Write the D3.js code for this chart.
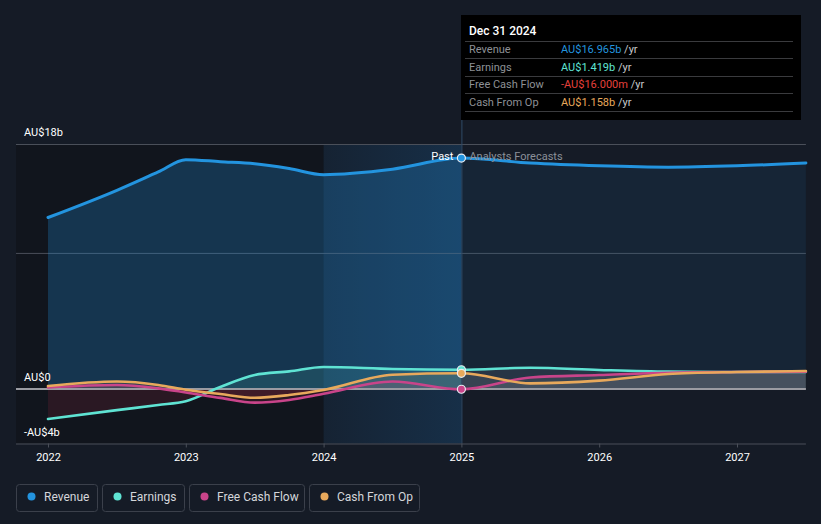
<!DOCTYPE html>
<html><head><meta charset="utf-8">
<script src="https://cdn.jsdelivr.net/npm/d3@7"></script>
<style>
html,body{margin:0;padding:0;background:#151b26;}
svg{display:block;font-family:Roboto,"Noto Sans",sans-serif;}
</style></head>
<body>
<svg id="c" width="821" height="524"></svg>
<script>
// ---- data (billions AUD) ----
const dates    = [2022.0, 2022.5, 2022.8, 2023.0, 2023.25, 2023.5, 2023.75, 2024.0, 2024.5, 2025.0, 2025.5, 2026.0, 2026.5, 2027.0, 2027.5];
const revenue  = [12.6, 14.6, 15.95, 16.85, 16.7, 16.55, 16.2, 15.75, 16.15, 16.965, 16.6, 16.4, 16.3, 16.4, 16.6];
const earnings = [-2.2, -1.55, -1.17, -0.9, 0.15, 1.03, 1.3, 1.62, 1.47, 1.419, 1.56, 1.4, 1.28, 1.25, 1.25];
const fcf      = [0.12, 0.3, 0.05, -0.25, -0.65, -1.0, -0.8, -0.35, 0.55, -0.016, 0.85, 1.03, 1.2, 1.25, 1.27];
const cfo      = [0.22, 0.55, 0.3, -0.05, -0.37, -0.64, -0.44, -0.07, 1.05, 1.158, 0.42, 0.62, 1.1, 1.25, 1.32];
const yearTicks = [2022, 2023, 2024, 2025, 2026, 2027];
const yLabels = [{v:18, t:"AU$18b"}, {v:0, t:"AU$0"}, {v:-4, t:"-AU$4b"}];
const gridValues = [18, 10];
const seriesNames = ["Revenue", "Earnings", "Free Cash Flow", "Cash From Op"];
const seriesColors = ["#2394df", "#5fe3d3", "#c9448a", "#e8a95c"];
const tooltipTitle = "Dec 31 2024";
const tooltipValues = ["AU$16.965b", "AU$1.419b", "-AU$16.000m", "AU$1.158b"];
const tooltipValueColors = ["#2394df", "#5fe3d3", "#e5413b", "#e8a95c"];
const pastEnd = 2025.0, highlightStart = 2024.0;

const svg = d3.select("#c");
const x = d3.scaleLinear().domain([2022, 2027]).range([48, 737]);
const y = d3.scaleLinear().domain([-4, 18]).range([443.5, 144]);
const pLeft = 16, pRight = x(2027.5), pTop = y(18), pBottom = y(-4);

const defs = svg.append("defs");
function clipRect(id, x0, x1, y0, y1){
  defs.append("clipPath").attr("id", id).append("rect")
    .attr("x", x0).attr("y", y0).attr("width", x1 - x0).attr("height", y1 - y0);
}
clipRect("pastPos", pLeft, x(pastEnd), pTop - 20, y(0));
clipRect("pastNeg", pLeft, x(pastEnd), y(0), pBottom);
clipRect("fut", x(pastEnd), pRight, pTop - 20, pBottom);
clipRect("past", pLeft, x(pastEnd), pTop - 20, pBottom);

const band = defs.append("linearGradient").attr("id", "band").attr("x1", 0).attr("x2", 1).attr("y1", 0).attr("y2", 0);
band.append("stop").attr("offset", 0).attr("stop-color", "#1a5a90").attr("stop-opacity", 0.12);
band.append("stop").attr("offset", 1).attr("stop-color", "#1a5a90").attr("stop-opacity", 0.32);

// backgrounds
svg.append("rect").attr("x", pLeft).attr("y", pTop).attr("width", x(highlightStart) - pLeft).attr("height", pBottom - pTop).attr("fill", "#10141b").attr("opacity", 0.8);
svg.append("rect").attr("x", x(highlightStart)).attr("y", pTop).attr("width", x(pastEnd) - x(highlightStart)).attr("height", pBottom - pTop).attr("fill", "url(#band)");

// gridlines
gridValues.forEach(v => {
  svg.append("line").attr("x1", pLeft).attr("x2", pRight).attr("y1", y(v) + 0.5).attr("y2", y(v) + 0.5)
    .attr("stroke", "#4a4f59").attr("stroke-width", 1);
});

const pts = arr => arr.map((v, i) => [dates[i], v]);
const area = d3.area().x(d => x(d[0])).y0(y(0)).y1(d => y(d[1])).curve(d3.curveMonotoneX);
const line = d3.line().x(d => x(d[0])).y(d => y(d[1])).curve(d3.curveMonotoneX);

// revenue area
svg.append("path").attr("d", area(pts(revenue))).attr("fill", "#2394df").attr("opacity", 0.26).attr("clip-path", "url(#past)");
svg.append("path").attr("d", area(pts(revenue))).attr("fill", "#2394df").attr("opacity", 0.09).attr("clip-path", "url(#fut)");

// small series areas
const small = [earnings, fcf, cfo];
small.forEach((s, i) => {
  const c = seriesColors[i + 1];
  svg.append("path").attr("d", area(pts(s))).attr("fill", c).attr("opacity", 0.13).attr("clip-path", "url(#pastPos)");
  svg.append("path").attr("d", area(pts(s))).attr("fill", "#b02a45").attr("opacity", 0.16).attr("clip-path", "url(#pastNeg)");
  svg.append("path").attr("d", area(pts(s))).attr("fill", "#c8c8d0").attr("opacity", 0.1).attr("clip-path", "url(#fut)");
});

// zero line
svg.append("line").attr("x1", pLeft).attr("x2", pRight).attr("y1", y(0)).attr("y2", y(0))
  .attr("stroke", "#9a9ba2").attr("stroke-width", 2);

// lines
const allSeries = [revenue, earnings, fcf, cfo];
allSeries.forEach((s, i) => {
  svg.append("path").attr("d", line(pts(s))).attr("fill", "none")
    .attr("stroke", seriesColors[i]).attr("stroke-width", i === 0 ? 3 : 2.6).attr("stroke-linecap", "round");
});

// vertical marker line
svg.append("line").attr("x1", x(pastEnd) + 0.5).attr("x2", x(pastEnd) + 0.5).attr("y1", 15).attr("y2", pBottom)
  .attr("stroke", "#2e4a66").attr("stroke-width", 1);

// dots at 2025
const idx = dates.indexOf(pastEnd);
[0, 1, 3, 2].forEach(i => {
  svg.append("circle").attr("cx", x(pastEnd)).attr("cy", y(allSeries[i][idx])).attr("r", 4)
    .attr("fill", seriesColors[i]).attr("stroke", "#e8ecf2").attr("stroke-width", 1.2);
});

// Past / Analysts Forecasts labels
svg.append("text").attr("x", x(pastEnd) - 8).attr("y", 160).attr("text-anchor", "end")
  .attr("fill", "#ffffff").attr("font-size", 11).text("Past");
svg.append("text").attr("x", x(pastEnd) + 8).attr("y", 160)
  .attr("fill", "#8b9099").attr("font-size", 11).text("Analysts Forecasts");

// y labels
yLabels.forEach(d => {
  svg.append("text").attr("x", 24).attr("y", y(d.v) - 8).attr("fill", "#ffffff").attr("font-size", 11).text(d.t);
});

// x axis
const xAxis = d3.axisBottom(x).tickValues(yearTicks).tickFormat(d3.format("d")).tickSize(4).tickPadding(6);
const gx = svg.append("g").attr("transform", `translate(0,${pBottom})`).call(xAxis);
gx.select(".domain").remove();
gx.selectAll(".tick line").attr("stroke", "#4a4f59");
gx.selectAll(".tick text").attr("fill", "#ffffff").attr("font-size", 11).attr("font-family", "Roboto,sans-serif");
svg.append("line").attr("x1", pLeft).attr("x2", pRight).attr("y1", pBottom + 0.5).attr("y2", pBottom + 0.5).attr("stroke", "#4a4f59");

// tooltip
const tt = svg.append("g");
tt.append("rect").attr("x", 461).attr("y", 15).attr("width", 340).attr("height", 105).attr("fill", "#000000");
tt.append("text").attr("x", 469).attr("y", 35).attr("fill", "#ffffff").attr("font-size", 12).attr("font-weight", 500).text(tooltipTitle);
[41, 58, 76, 93, 111].forEach(yy => {
  tt.append("line").attr("x1", 465).attr("x2", 793).attr("y1", yy + 0.5).attr("y2", yy + 0.5).attr("stroke", "#3a3b3e");
});
const rowY = [53, 70.5, 88, 105.5];
seriesNames.forEach((n, i) => {
  tt.append("text").attr("x", 469).attr("y", rowY[i]).attr("fill", "#8e9196").attr("font-size", 11).text(n);
  const t = tt.append("text").attr("x", 561).attr("y", rowY[i]).attr("font-size", 11);
  t.append("tspan").attr("fill", tooltipValueColors[i]).text(tooltipValues[i]);
  t.append("tspan").attr("fill", "#c8cacd").text(" /yr");
});

// legend
const legX = [16, 102, 189, 309];
const legW = [81, 82, 115, 110];
seriesNames.forEach((n, i) => {
  const g = svg.append("g").attr("transform", `translate(${legX[i]},484)`);
  g.append("rect").attr("x", 0.5).attr("y", 0.5).attr("width", legW[i]).attr("height", 27).attr("rx", 3)
    .attr("fill", "none").attr("stroke", "#3b404b");
  g.append("circle").attr("cx", 15.5).attr("cy", 12.5).attr("r", 4).attr("fill", seriesColors[i]);
  g.append("text").attr("x", 28).attr("y", 16.5).attr("fill", "#d4d6da").attr("font-size", 12).text(n);
});
</script>
</body></html>
